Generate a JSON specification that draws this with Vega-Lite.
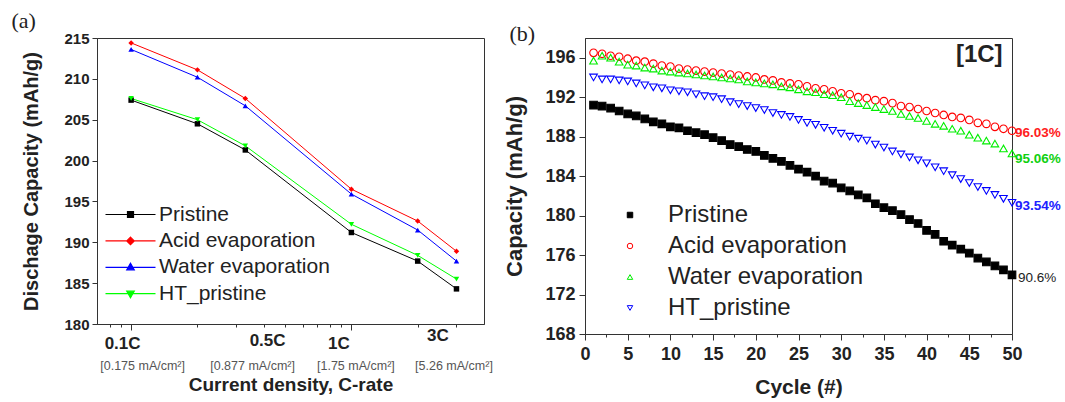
{
  "$schema": "https://vega.github.io/schema/vega-lite/v6.json",
  "padding": {"left": 10, "top": 8, "right": 0, "bottom": 0},
  "background": "white",
  "config": {
    "font": "Liberation Sans",
    "view": {"stroke": "#333", "strokeWidth": 1},
    "axis": {"grid": false, "domainColor": "#333", "tickColor": "#333", "labelColor": "#222", "titleColor": "#222", "labelFont": "Liberation Sans", "titleFont": "Liberation Sans", "labelFontWeight": "bold", "titleFontWeight": "bold", "labelOverlap": false, "labelFlush": false},
    "legend": {"labelFont": "Liberation Sans", "labelColor": "#222", "labelFontWeight": "normal", "labelLimit": 400}
  },
  "resolve": {"scale": {"color": "independent", "shape": "independent", "fill": "independent", "stroke": "independent", "x": "independent", "y": "independent"}, "legend": {"color": "independent", "shape": "independent"}},
  "datasets": {
    "rate": [
      {"s": "Pristine", "rate": 0.1, "cap": 207.4}, {"s": "Pristine", "rate": 0.2, "cap": 204.5}, {"s": "Pristine", "rate": 0.33, "cap": 201.3}, {"s": "Pristine", "rate": 1, "cap": 191.2}, {"s": "Pristine", "rate": 2, "cap": 187.7}, {"s": "Pristine", "rate": 3, "cap": 184.3},
      {"s": "Acid evaporation", "rate": 0.1, "cap": 214.4}, {"s": "Acid evaporation", "rate": 0.2, "cap": 211.1}, {"s": "Acid evaporation", "rate": 0.33, "cap": 207.6}, {"s": "Acid evaporation", "rate": 1, "cap": 196.5}, {"s": "Acid evaporation", "rate": 2, "cap": 192.6}, {"s": "Acid evaporation", "rate": 3, "cap": 188.9},
      {"s": "Water evaporation", "rate": 0.1, "cap": 213.6}, {"s": "Water evaporation", "rate": 0.2, "cap": 210.2}, {"s": "Water evaporation", "rate": 0.33, "cap": 206.7}, {"s": "Water evaporation", "rate": 1, "cap": 195.9}, {"s": "Water evaporation", "rate": 2, "cap": 191.5}, {"s": "Water evaporation", "rate": 3, "cap": 187.7},
      {"s": "HT_pristine", "rate": 0.1, "cap": 207.6}, {"s": "HT_pristine", "rate": 0.2, "cap": 205.0}, {"s": "HT_pristine", "rate": 0.33, "cap": 201.8}, {"s": "HT_pristine", "rate": 1, "cap": 192.2}, {"s": "HT_pristine", "rate": 2, "cap": 188.4}, {"s": "HT_pristine", "rate": 3, "cap": 185.5}
    ],
    "cyc": [
      {"s":"Pristine","c":1,"v":191.2},{"s":"Pristine","c":2,"v":191.1},{"s":"Pristine","c":3,"v":190.9},{"s":"Pristine","c":4,"v":190.6},{"s":"Pristine","c":5,"v":190.3},{"s":"Pristine","c":6,"v":190.1},{"s":"Pristine","c":7,"v":189.8},{"s":"Pristine","c":8,"v":189.5},{"s":"Pristine","c":9,"v":189.3},{"s":"Pristine","c":10,"v":189.0},
      {"s":"Pristine","c":11,"v":188.9},{"s":"Pristine","c":12,"v":188.6},{"s":"Pristine","c":13,"v":188.4},{"s":"Pristine","c":14,"v":188.2},{"s":"Pristine","c":15,"v":187.9},{"s":"Pristine","c":16,"v":187.6},{"s":"Pristine","c":17,"v":187.2},{"s":"Pristine","c":18,"v":187.0},{"s":"Pristine","c":19,"v":186.7},{"s":"Pristine","c":20,"v":186.5},
      {"s":"Pristine","c":21,"v":186.1},{"s":"Pristine","c":22,"v":185.8},{"s":"Pristine","c":23,"v":185.5},{"s":"Pristine","c":24,"v":185.1},{"s":"Pristine","c":25,"v":184.7},{"s":"Pristine","c":26,"v":184.4},{"s":"Pristine","c":27,"v":184.0},{"s":"Pristine","c":28,"v":183.5},{"s":"Pristine","c":29,"v":183.3},{"s":"Pristine","c":30,"v":182.8},
      {"s":"Pristine","c":31,"v":182.5},{"s":"Pristine","c":32,"v":182.1},{"s":"Pristine","c":33,"v":181.8},{"s":"Pristine","c":34,"v":181.2},{"s":"Pristine","c":35,"v":180.8},{"s":"Pristine","c":36,"v":180.5},{"s":"Pristine","c":37,"v":180.1},{"s":"Pristine","c":38,"v":179.6},{"s":"Pristine","c":39,"v":179.2},{"s":"Pristine","c":40,"v":178.5},
      {"s":"Pristine","c":41,"v":178.1},{"s":"Pristine","c":42,"v":177.4},{"s":"Pristine","c":43,"v":177.0},{"s":"Pristine","c":44,"v":176.6},{"s":"Pristine","c":45,"v":176.2},{"s":"Pristine","c":46,"v":175.7},{"s":"Pristine","c":47,"v":175.3},{"s":"Pristine","c":48,"v":174.9},{"s":"Pristine","c":49,"v":174.5},{"s":"Pristine","c":50,"v":174.0},
      {"s":"Acid evaporation","c":1,"v":196.5},{"s":"Acid evaporation","c":2,"v":196.4},{"s":"Acid evaporation","c":3,"v":196.2},{"s":"Acid evaporation","c":4,"v":196.1},{"s":"Acid evaporation","c":5,"v":195.9},{"s":"Acid evaporation","c":6,"v":195.7},{"s":"Acid evaporation","c":7,"v":195.6},{"s":"Acid evaporation","c":8,"v":195.4},{"s":"Acid evaporation","c":9,"v":195.2},{"s":"Acid evaporation","c":10,"v":195.1},
      {"s":"Acid evaporation","c":11,"v":194.9},{"s":"Acid evaporation","c":12,"v":194.8},{"s":"Acid evaporation","c":13,"v":194.7},{"s":"Acid evaporation","c":14,"v":194.6},{"s":"Acid evaporation","c":15,"v":194.5},{"s":"Acid evaporation","c":16,"v":194.4},{"s":"Acid evaporation","c":17,"v":194.3},{"s":"Acid evaporation","c":18,"v":194.2},{"s":"Acid evaporation","c":19,"v":194.1},{"s":"Acid evaporation","c":20,"v":194.0},
      {"s":"Acid evaporation","c":21,"v":193.8},{"s":"Acid evaporation","c":22,"v":193.7},{"s":"Acid evaporation","c":23,"v":193.5},{"s":"Acid evaporation","c":24,"v":193.4},{"s":"Acid evaporation","c":25,"v":193.3},{"s":"Acid evaporation","c":26,"v":193.1},{"s":"Acid evaporation","c":27,"v":192.9},{"s":"Acid evaporation","c":28,"v":192.8},{"s":"Acid evaporation","c":29,"v":192.6},{"s":"Acid evaporation","c":30,"v":192.4},
      {"s":"Acid evaporation","c":31,"v":192.3},{"s":"Acid evaporation","c":32,"v":192.0},{"s":"Acid evaporation","c":33,"v":191.9},{"s":"Acid evaporation","c":34,"v":191.7},{"s":"Acid evaporation","c":35,"v":191.6},{"s":"Acid evaporation","c":36,"v":191.4},{"s":"Acid evaporation","c":37,"v":191.1},{"s":"Acid evaporation","c":38,"v":191.0},{"s":"Acid evaporation","c":39,"v":190.8},{"s":"Acid evaporation","c":40,"v":190.6},
      {"s":"Acid evaporation","c":41,"v":190.4},{"s":"Acid evaporation","c":42,"v":190.2},{"s":"Acid evaporation","c":43,"v":190.0},{"s":"Acid evaporation","c":44,"v":189.9},{"s":"Acid evaporation","c":45,"v":189.7},{"s":"Acid evaporation","c":46,"v":189.4},{"s":"Acid evaporation","c":47,"v":189.3},{"s":"Acid evaporation","c":48,"v":189.0},{"s":"Acid evaporation","c":49,"v":188.8},{"s":"Acid evaporation","c":50,"v":188.6},
      {"s":"Water evaporation","c":1,"v":195.7},{"s":"Water evaporation","c":2,"v":196.2},{"s":"Water evaporation","c":3,"v":196.0},{"s":"Water evaporation","c":4,"v":195.6},{"s":"Water evaporation","c":5,"v":195.3},{"s":"Water evaporation","c":6,"v":195.2},{"s":"Water evaporation","c":7,"v":195.0},{"s":"Water evaporation","c":8,"v":194.9},{"s":"Water evaporation","c":9,"v":194.7},{"s":"Water evaporation","c":10,"v":194.6},
      {"s":"Water evaporation","c":11,"v":194.5},{"s":"Water evaporation","c":12,"v":194.4},{"s":"Water evaporation","c":13,"v":194.3},{"s":"Water evaporation","c":14,"v":194.2},{"s":"Water evaporation","c":15,"v":194.1},{"s":"Water evaporation","c":16,"v":194.0},{"s":"Water evaporation","c":17,"v":193.9},{"s":"Water evaporation","c":18,"v":193.8},{"s":"Water evaporation","c":19,"v":193.6},{"s":"Water evaporation","c":20,"v":193.5},
      {"s":"Water evaporation","c":21,"v":193.4},{"s":"Water evaporation","c":22,"v":193.3},{"s":"Water evaporation","c":23,"v":193.1},{"s":"Water evaporation","c":24,"v":193.0},{"s":"Water evaporation","c":25,"v":192.8},{"s":"Water evaporation","c":26,"v":192.6},{"s":"Water evaporation","c":27,"v":192.5},{"s":"Water evaporation","c":28,"v":192.3},{"s":"Water evaporation","c":29,"v":192.2},{"s":"Water evaporation","c":30,"v":192.0},
      {"s":"Water evaporation","c":31,"v":191.6},{"s":"Water evaporation","c":32,"v":191.4},{"s":"Water evaporation","c":33,"v":191.2},{"s":"Water evaporation","c":34,"v":191.0},{"s":"Water evaporation","c":35,"v":190.8},{"s":"Water evaporation","c":36,"v":190.6},{"s":"Water evaporation","c":37,"v":190.3},{"s":"Water evaporation","c":38,"v":190.1},{"s":"Water evaporation","c":39,"v":189.9},{"s":"Water evaporation","c":40,"v":189.6},
      {"s":"Water evaporation","c":41,"v":189.3},{"s":"Water evaporation","c":42,"v":189.1},{"s":"Water evaporation","c":43,"v":188.8},{"s":"Water evaporation","c":44,"v":188.6},{"s":"Water evaporation","c":45,"v":188.2},{"s":"Water evaporation","c":46,"v":187.9},{"s":"Water evaporation","c":47,"v":187.6},{"s":"Water evaporation","c":48,"v":187.3},{"s":"Water evaporation","c":49,"v":186.8},{"s":"Water evaporation","c":50,"v":186.3},
      {"s":"HT_pristine","c":1,"v":194.0},{"s":"HT_pristine","c":2,"v":193.8},{"s":"HT_pristine","c":3,"v":193.8},{"s":"HT_pristine","c":4,"v":193.7},{"s":"HT_pristine","c":5,"v":193.6},{"s":"HT_pristine","c":6,"v":193.4},{"s":"HT_pristine","c":7,"v":193.2},{"s":"HT_pristine","c":8,"v":193.0},{"s":"HT_pristine","c":9,"v":192.9},{"s":"HT_pristine","c":10,"v":192.7},
      {"s":"HT_pristine","c":11,"v":192.6},{"s":"HT_pristine","c":12,"v":192.5},{"s":"HT_pristine","c":13,"v":192.3},{"s":"HT_pristine","c":14,"v":192.1},{"s":"HT_pristine","c":15,"v":192.0},{"s":"HT_pristine","c":16,"v":191.8},{"s":"HT_pristine","c":17,"v":191.5},{"s":"HT_pristine","c":18,"v":191.3},{"s":"HT_pristine","c":19,"v":191.1},{"s":"HT_pristine","c":20,"v":190.9},
      {"s":"HT_pristine","c":21,"v":190.7},{"s":"HT_pristine","c":22,"v":190.4},{"s":"HT_pristine","c":23,"v":190.2},{"s":"HT_pristine","c":24,"v":190.0},{"s":"HT_pristine","c":25,"v":189.7},{"s":"HT_pristine","c":26,"v":189.4},{"s":"HT_pristine","c":27,"v":189.2},{"s":"HT_pristine","c":28,"v":188.9},{"s":"HT_pristine","c":29,"v":188.6},{"s":"HT_pristine","c":30,"v":188.3},
      {"s":"HT_pristine","c":31,"v":188.0},{"s":"HT_pristine","c":32,"v":187.8},{"s":"HT_pristine","c":33,"v":187.6},{"s":"HT_pristine","c":34,"v":187.2},{"s":"HT_pristine","c":35,"v":186.9},{"s":"HT_pristine","c":36,"v":186.5},{"s":"HT_pristine","c":37,"v":186.2},{"s":"HT_pristine","c":38,"v":185.9},{"s":"HT_pristine","c":39,"v":185.6},{"s":"HT_pristine","c":40,"v":185.3},
      {"s":"HT_pristine","c":41,"v":184.9},{"s":"HT_pristine","c":42,"v":184.5},{"s":"HT_pristine","c":43,"v":184.1},{"s":"HT_pristine","c":44,"v":183.7},{"s":"HT_pristine","c":45,"v":183.3},{"s":"HT_pristine","c":46,"v":182.9},{"s":"HT_pristine","c":47,"v":182.5},{"s":"HT_pristine","c":48,"v":182.1},{"s":"HT_pristine","c":49,"v":181.7},{"s":"HT_pristine","c":50,"v":181.3}
    ],
    "ends": [
      {"s": "Acid evaporation", "c": 50, "v": 188.4, "t": "96.03%"},
      {"s": "Water evaporation", "c": 50, "v": 185.7, "t": "95.06%"},
      {"s": "HT_pristine", "c": 50, "v": 181.0, "t": "93.54%"},
      {"s": "Pristine", "c": 50, "v": 173.7, "t": "90.6%"}
    ]
  },
  "spacing": 10,
  "columns": 2,
  "align": "none",
  "concat": [
    {
      "width": 387,
      "height": 286,
      "data": {"name": "rate"},
      "layer": [
        {
          "mark": {"type": "line", "strokeWidth": 1},
          "encoding": {
            "x": {
              "field": "rate",
              "type": "quantitative",
              "scale": {"type": "log", "domain": [0.07, 4], "nice": false},
              "axis": {
                "orient": "bottom",
                "values": [0.08, 0.09, 0.1, 0.2, 0.3, 0.4, 0.5, 0.6, 0.7, 0.8, 0.9, 1, 2, 3],
                "labelExpr": "datum.value == 0.1 ? '0.1C' : datum.value == 0.5 ? '0.5C' : datum.value == 1 ? '1C' : datum.value == 3 ? '3C' : ''",
                "labelFontSize": 17,
                "tickSize": {"condition": {"test": "datum.value == 0.1 || datum.value == 1", "value": 6}, "value": 3},
                "labelOffset": {"condition": [{"test": "datum.value == 0.1", "value": -9}, {"test": "datum.value == 0.5", "value": -18}, {"test": "datum.value == 1", "value": -13}], "value": -19},
                "labelPadding": {"condition": {"test": "datum.value == 3", "value": 0}, "value": 5},
                "title": "(a)",
                "titleFont": "Liberation Serif",
                "titleFontSize": 22,
                "titleFontWeight": "normal",
                "titleAlign": "left",
                "titleBaseline": "top",
                "titleAnchor": "start",
                "titleAngle": 0,
                "titleX": -86,
                "titleY": -314
              }
            },
            "y": {
              "field": "cap",
              "type": "quantitative",
              "scale": {"domain": [180, 215], "nice": false, "zero": false},
              "axis": {
                "values": [180, 182.5, 185, 187.5, 190, 192.5, 195, 197.5, 200, 202.5, 205, 207.5, 210, 212.5, 215],
                "labelExpr": "datum.value % 5 == 0 ? datum.label : ''",
                "tickSize": {"condition": {"test": "datum.value % 5 != 0", "value": 3}, "value": 5},
                "labelFontSize": 15,
                "labelPadding": 3,
                "title": "Dischage Capacity (mAh/g)",
                "titleFontSize": 20,
                "titlePadding": 22
              }
            },
            "color": {
              "field": "s",
              "type": "nominal",
              "scale": {"domain": ["Pristine", "Acid evaporation", "Water evaporation", "HT_pristine"], "range": ["#000000", "#ff0000", "#0000ff", "#00ff00"]},
              "legend": null
            }
          }
        },
        {
          "mark": {"type": "point", "filled": true, "size": 30, "opacity": 1},
          "encoding": {
            "x": {
              "field": "rate",
              "type": "quantitative",
              "scale": {"type": "log", "domain": [0.07, 4], "nice": false},
              "axis": {
                "orient": "bottom",
                "values": [0.1, 0.5, 1, 3],
                "labelExpr": "datum.value == 0.1 ? '[0.175 mA/cm²]' : datum.value == 0.5 ? '[0.877 mA/cm²]' : datum.value == 1 ? '[1.75 mA/cm²]' : '[5.26 mA/cm²]'",
                "ticks": false,
                "domain": false,
                "labelFontSize": 12.5,
                "labelFontWeight": "normal",
                "labelColor": "#555",
                "labelPadding": 35,
                "labelOffset": {"condition": [{"test": "datum.value == 0.1", "value": 11}, {"test": "datum.value == 0.5", "value": -33}, {"test": "datum.value == 1", "value": 4}], "value": -3},
                "title": "Current density, C-rate",
                "titleFontSize": 19,
                "titlePadding": 4
              }
            },
            "y": {"field": "cap", "type": "quantitative"},
            "color": {"field": "s", "type": "nominal", "legend": null},
            "shape": {
              "field": "s",
              "type": "nominal",
              "scale": {"domain": ["Pristine", "Acid evaporation", "Water evaporation", "HT_pristine"], "range": ["square", "diamond", "triangle-up", "triangle-down"]},
              "legend": null
            }
          }
        },
        {
          "transform": [{"filter": "false"}],
          "mark": {"type": "point", "filled": true, "size": 30, "opacity": 1},
          "encoding": {
            "x": {"field": "rate", "type": "quantitative", "axis": null},
            "y": {"field": "cap", "type": "quantitative"},
            "fill": {
              "field": "s",
              "type": "nominal",
              "scale": {"domain": ["Pristine", "Acid evaporation", "Water evaporation", "HT_pristine"], "range": ["#000000", "#ff0000", "#0000ff", "#00ff00"]},
              "legend": {"title": null, "orient": "none", "legendX": 23, "legendY": 166, "padding": 0, "labelFontSize": 21, "symbolSize": 100, "symbolStrokeWidth": 1.2, "labelOffset": 18, "rowPadding": 4.4}
            },
            "stroke": {
              "field": "s",
              "type": "nominal",
              "scale": {"domain": ["Pristine", "Acid evaporation", "Water evaporation", "HT_pristine"], "range": ["#000000", "#ff0000", "#0000ff", "#00ff00"]},
              "legend": {"title": null, "orient": "none", "legendX": 23, "legendY": 166, "padding": 0, "labelFontSize": 21, "symbolSize": 100, "symbolStrokeWidth": 1.2, "labelOffset": 18, "rowPadding": 4.4}
            },
            "shape": {
              "field": "s",
              "type": "nominal",
              "scale": {"domain": ["Pristine", "Acid evaporation", "Water evaporation", "HT_pristine"], "range": ["M-5,0H5M-0.6,-0.6H0.6V0.6H-0.6Z", "M-5,0H5M0,-0.75L0.75,0L0,0.75L-0.75,0Z", "M-5,0H5M0,-0.8L0.75,0.5H-0.75Z", "M-5,0H5M0,0.8L0.75,-0.5H-0.75Z"]},
              "legend": {"title": null, "orient": "none", "legendX": 23, "legendY": 166, "padding": 0, "labelFontSize": 21, "symbolSize": 100, "symbolStrokeWidth": 1.2, "labelOffset": 18, "rowPadding": 4.4}
            }
          }
        }
      ],
      "resolve": {"axis": {"x": "independent"}, "scale": {"shape": "independent", "fill": "independent", "stroke": "independent"}}
    },
    {
      "width": 427,
      "height": 296,
      "layer": [
        {
          "data": {"name": "cyc"},
          "mark": {"type": "point", "size": 58, "strokeWidth": 1.1, "opacity": 1},
          "encoding": {
            "x": {
              "field": "c",
              "type": "quantitative",
              "scale": {"domain": [0, 50], "nice": false},
              "axis": {
                "values": [0, 2.5, 5, 7.5, 10, 12.5, 15, 17.5, 20, 22.5, 25, 27.5, 30, 32.5, 35, 37.5, 40, 42.5, 45, 47.5, 50],
                "labelExpr": "datum.value % 5 == 0 ? datum.label : ''",
                "tickSize": {"condition": {"test": "datum.value % 5 != 0", "value": 3}, "value": 6},
                "labelFontSize": 18,
                "labelPadding": 5,
                "title": "Cycle (#)",
                "titleFontSize": 21,
                "titlePadding": 13
              }
            },
            "y": {
              "field": "v",
              "type": "quantitative",
              "scale": {"domain": [168, 198], "nice": false, "zero": false},
              "axis": {
                "values": [168, 170, 172, 174, 176, 178, 180, 182, 184, 186, 188, 190, 192, 194, 196],
                "labelExpr": "datum.value % 4 == 0 ? datum.label : ''",
                "tickSize": {"condition": {"test": "datum.value % 4 != 0", "value": 3}, "value": 6},
                "labelFontSize": 18,
                "labelPadding": 4,
                "title": "Capacity (mAh/g)",
                "titleFontSize": 22,
                "titlePadding": 18
              }
            },
            "color": {
              "field": "s",
              "type": "nominal",
              "scale": {"domain": ["Pristine", "Acid evaporation", "Water evaporation", "HT_pristine"], "range": ["#000000", "#ff0000", "#00ee00", "#0000ff"]},
              "legend": {"title": null, "orient": "none", "legendX": 33, "legendY": 165, "padding": 0, "labelFontSize": 24, "symbolSize": 30, "symbolStrokeWidth": 1, "labelOffset": 26, "rowPadding": 7,
                "encoding": {"symbols": {"fill": {"condition": {"test": "datum.value === 'Pristine'", "value": "#000000"}, "value": "transparent"}}}}
            },
            "shape": {
              "field": "s",
              "type": "nominal",
              "scale": {"domain": ["Pristine", "Acid evaporation", "Water evaporation", "HT_pristine"], "range": ["square", "circle", "triangle-up", "triangle-down"]},
              "legend": {"title": null, "orient": "none", "legendX": 33, "legendY": 165, "padding": 0, "labelFontSize": 24, "symbolSize": 30, "symbolStrokeWidth": 1, "labelOffset": 26, "rowPadding": 7,
                "encoding": {"symbols": {"fill": {"condition": {"test": "datum.value === 'Pristine'", "value": "#000000"}, "value": "transparent"}}}}
            },
            "fill": {"condition": {"test": "datum.s === 'Pristine'", "value": "#000000"}, "value": "transparent"}
          }
        },
        {
          "data": {"values": [{"t": "[1C]"}]},
          "mark": {"type": "text", "align": "right", "baseline": "middle", "fontSize": 24, "fontWeight": "bold", "color": "#222"},
          "encoding": {
            "x": {"datum": 48.9, "type": "quantitative",
              "axis": {"orient": "bottom", "values": [], "domain": false, "ticks": false, "labels": false,
                "title": "(b)", "titleFont": "Liberation Serif", "titleFontSize": 22, "titleFontWeight": "normal", "titleAlign": "left", "titleBaseline": "top", "titleAnchor": "start", "titleAngle": 0, "titleX": -76, "titleY": -311}},
            "y": {"datum": 196.3, "type": "quantitative"},
            "text": {"field": "t"}
          }
        },
        {
          "data": {"name": "ends"},
          "transform": [{"filter": "datum.s !== 'Pristine'"}],
          "mark": {"type": "text", "align": "left", "baseline": "middle", "dx": 3, "fontSize": 13.5, "fontWeight": "bold"},
          "encoding": {
            "x": {"field": "c", "type": "quantitative", "axis": null},
            "y": {"field": "v", "type": "quantitative"},
            "text": {"field": "t"},
            "color": {"condition": [{"test": "datum.s === 'Acid evaporation'", "value": "#ff2020"}, {"test": "datum.s === 'Water evaporation'", "value": "#10d010"}], "value": "#2020ff"}
          }
        },
        {
          "data": {"name": "ends"},
          "transform": [{"filter": "datum.s === 'Pristine'"}],
          "mark": {"type": "text", "align": "left", "baseline": "middle", "dx": 6, "fontSize": 13.5, "color": "#222"},
          "encoding": {
            "x": {"field": "c", "type": "quantitative", "axis": null},
            "y": {"field": "v", "type": "quantitative"},
            "text": {"field": "t"}
          }
        }
      ],
      "resolve": {"axis": {"x": "independent"}}
    }
  ]
}
